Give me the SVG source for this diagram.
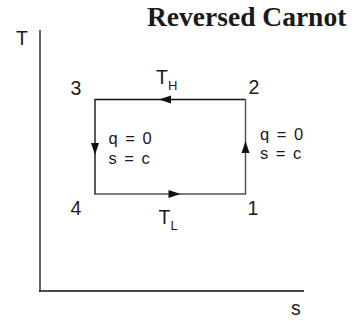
<svg xmlns="http://www.w3.org/2000/svg" width="358" height="321" viewBox="0 0 358 321">
<style>
.lbl{font-family:"Liberation Sans",Arial,sans-serif;font-size:19.5px;fill:#1a1a1a}
.eq{font-family:"Liberation Sans",Arial,sans-serif;font-size:16.5px;fill:#1a1a1a;word-spacing:3px}
.sub{font-size:13px}
.title{font-family:"Liberation Serif","Times New Roman",serif;font-weight:bold;font-size:27.5px;fill:#1a1a1a}
.ah{fill:#111}
</style>
<rect width="358" height="321" fill="#fff"/>
<text class="title" x="147" y="26">Reversed Carnot</text>
<g id="axes">
<line x1="40" y1="30" x2="40" y2="291.5" stroke="#666" stroke-width="2"/>
<line x1="39" y1="291" x2="304" y2="291" stroke="#111" stroke-width="1.5"/>
<text class="lbl" x="16" y="45">T</text>
<text class="lbl" x="291" y="315">s</text>
</g>
<g id="connectors">
<line x1="245.5" y1="99.5" x2="94.5" y2="99.5" stroke="#111" stroke-width="1.3"/>
<line x1="95" y1="99" x2="95" y2="194.5" stroke="#222" stroke-width="1.5"/>
<line x1="94.5" y1="194" x2="246" y2="194" stroke="#555" stroke-width="1.5"/>
<line x1="245.5" y1="194.5" x2="245.5" y2="99" stroke="#555" stroke-width="1.5"/>
<polygon class="ah" points="159,99.5 171,95.5 171,103.5"/>
<polygon class="ah" points="95,155 91,143 99,143"/>
<polygon class="ah" points="180.5,194 168.5,190 168.5,198"/>
<polygon class="ah" points="245.5,141 241.5,153 249.5,153"/>
</g>
<g id="n3"><text class="lbl" x="70.5" y="94.5">3</text></g>
<g id="n2"><text class="lbl" x="248.5" y="93.5">2</text></g>
<g id="n4"><text class="lbl" x="70.5" y="215">4</text></g>
<g id="n1"><text class="lbl" x="247.5" y="214.5">1</text></g>
<g id="TH"><text class="lbl" x="156" y="84">T<tspan class="sub" dy="5.5">H</tspan></text></g>
<g id="TL"><text class="lbl" x="158.5" y="224">T<tspan class="sub" dy="6">L</tspan></text></g>
<g id="left-eq">
<text class="eq" x="108.5" y="144">q = 0</text>
<text class="eq" x="108.5" y="163.5">s = c</text>
</g>
<g id="right-eq">
<text class="eq" x="260" y="140">q = 0</text>
<text class="eq" x="260" y="159">s = c</text>
</g>
</svg>
